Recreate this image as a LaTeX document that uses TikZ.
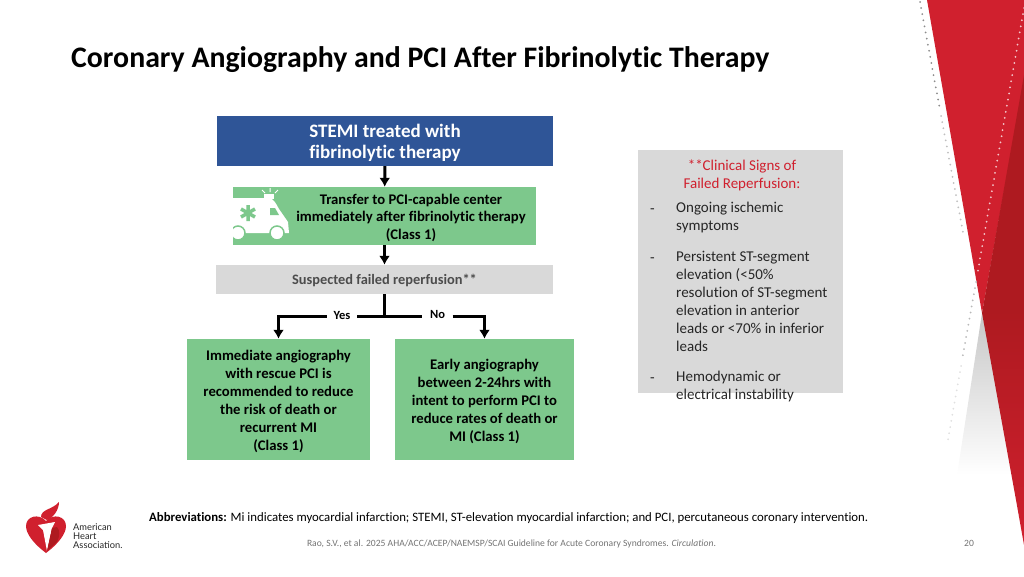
\documentclass[tikz,border=0pt]{standalone}
\usepackage{fontspec}
\setmainfont{Carlito}[Ligatures=NoCommon]
\newfontfamily\logofont{Lato}
\usepackage{tikz}
\usetikzlibrary{arrows.meta, positioning, calc}

\definecolor{ahablue}{HTML}{2F5597}
\definecolor{ahagreen}{HTML}{7DC88C}
\definecolor{ahagray}{HTML}{D9D9D9}
\definecolor{ahared}{HTML}{D0202E}
\definecolor{ahadark}{HTML}{AE1A20}

\newcommand{\topgap}[1]{\rule{0pt}{#1pt}}

\tikzset{
    box/.style = {draw=none, inner sep=0pt, align=center},
    greenbox/.style = {box, fill=ahagreen, font=\fontsize{14.7}{18}\selectfont\bfseries},
    bulletdash/.style = {inner sep=0pt, anchor=base west, text=black!85, font=\fontsize{15}{18}\selectfont},
    bullettext/.style = {inner sep=0pt, anchor=north west, align=left, text=black!85, font=\fontsize{15}{18}\selectfont},
    flow/.style = {line width=3pt, -{Latex[length=9pt, width=11pt]}},
    stem/.style = {line width=3pt},
    branch/.style = {inner sep=0pt, fill=white, minimum width=30pt, minimum height=12pt, font=\fontsize{12.5}{14}\selectfont\bfseries},
    dots/.style = {line width=2pt, line cap=round, dash pattern=on 0pt off 6.2pt},
}

\begin{document}
\begin{tikzpicture}[x=1pt, y=-1pt]
    \useasboundingbox (0,0) rectangle (1024,576);

    % corner decoration
    \shade[top color=black!22, bottom color=white] (982,313) -- (957,475) -- (1018,475) -- cycle;
    \fill[ahared] (927,0) -- (1024,0) -- (1024,80) -- (982,313) -- cycle;
    \shade[top color=ahadark, bottom color=ahared, middle color=ahadark] (1024,75) -- (982,313) -- (1016,500) -- (1024,545) -- cycle;
    \draw[dots, black!45] (920,2) -- (940,110);
    \draw[dots, black!25] (941,116) -- (963,232);
    \draw[dots, white!75!ahared] (1024,8) -- (977,276);
    \draw[dots, black!28] (976,282) -- (962,360);
    \draw[dots, black!12] (961,366) -- (947,445);

    % title
    \node[anchor=base west, inner sep=0pt, font=\fontsize{29.8}{32}\selectfont\bfseries] (title) at (71,67) {Coronary Angiography and PCI After Fibrinolytic Therapy};

    % flow boxes
    \node[box, fill=ahablue, text=white, minimum width=336pt, minimum height=50pt, font=\fontsize{19}{21}\selectfont\bfseries] (stemi) at (385,141) {\topgap{16}STEMI treated with\\fibrinolytic therapy};
    \node[greenbox, minimum width=303pt, minimum height=58pt] (transfer) at (384.5,216) {};
    \node[box, fill=ahagray, text=black!70, minimum width=337pt, minimum height=29pt, font=\fontsize{14.4}{18}\selectfont\bfseries] (suspect) at (384.5,279.5) {\topgap{13}Suspected failed reperfusion**};
    \node[greenbox, minimum width=183pt, minimum height=121pt] (immediate) at (278.5,399.5) {\topgap{14}Immediate angiography\\with rescue PCI is\\recommended to reduce\\the risk of death or\\recurrent MI\\(Class 1)};
    \node[greenbox, minimum width=179pt, minimum height=121pt] (early) at (484.5,399.5) {\topgap{14}Early angiography\\between 2-24hrs with\\intent to perform PCI to\\reduce rates of death or\\MI (Class 1)};

    % ambulance
    \begin{scope}
        \clip (233,187) rectangle (536,245);
        \fill[white] (225,198) -- (268,198) .. controls (274,198) and (276,204) .. (279,209) -- (288,222) -- (289,233) -- (225,233) -- cycle;
        \fill[white] (264,194) rectangle (274,199);
        \draw[white, line width=1pt] (262,190) -- (265,193) (270,188) -- (270,192) (278,190) -- (275,193);
        \fill[ahagreen] (270,208) -- (275,208) -- (279,215) -- (270,215) -- cycle;
        \draw[ahagreen, line width=3.5pt] (248,205) -- (248,221) (241,209) -- (255,217) (241,217) -- (255,209);
        \fill[white, draw=ahagreen, line width=1.5pt] (277,233) circle (7);
        \fill[white, draw=ahagreen, line width=1.5pt] (238,233) circle (7);
    \end{scope}
    \node[box, font=\fontsize{14.7}{17.5}\selectfont\bfseries] (transfertext) at (411,217.5) {Transfer to PCI-capable center\\immediately after fibrinolytic therapy\\(Class 1)};

    % connectors
    \coordinate (split) at (suspect.south |- 0,316);
    \node[branch] (yes) at (342,315) {Yes};
    \node[branch] (no) at (437.5,314) {No};

    \draw[flow] (stemi) -- (transfer);
    \draw[flow] (transfer) -- (suspect);
    \draw[stem] (suspect) -- (split);
    \draw[stem] (split -| yes.east) -- (split -| no.west);
    \draw[flow] (split -| yes.west) -| (immediate);
    \draw[flow] (split -| no.east) -| (early);

    % clinical signs panel
    \node[box, fill=ahagray, minimum width=205pt, minimum height=243pt] (signs) at (740.5,271.5) {};
    \node[align=center, inner sep=0pt, text=ahared, font=\fontsize{15}{18}\selectfont] (signhead) at (742,175) {**Clinical Signs of\\Failed Reperfusion:};
    \node[bullettext] (ongoing) at (676,201.5) {Ongoing ischemic\\symptoms};
    \node[bullettext] (persist) at (676,250.5) {Persistent ST-segment\\elevation (<50\%\\resolution of ST-segment\\elevation in anterior\\leads or <70\% in inferior\\leads};
    \node[bullettext] (hemo) at (676,370.5) {Hemodynamic or\\electrical instability};
    \node[bulletdash] (dasha) at (650,213) {-};
    \node[bulletdash] (dashb) at (650,262) {-};
    \node[bulletdash] (dashc) at (650,382) {-};

    % footer
    \node[anchor=base west, inner sep=0pt, font=\fontsize{12.8}{14}\selectfont] (abbrev) at (149,521) {\textbf{Abbreviations:} Mi indicates myocardial infarction; STEMI, ST-elevation myocardial infarction; and PCI, percutaneous coronary intervention.};
    \node[anchor=base, inner sep=0pt, text=black!55, font=\fontsize{9.6}{11}\selectfont] (cite) at (511.5,546.5) {Rao, S.V., et al. 2025 AHA/ACC/ACEP/NAEMSP/SCAI Guideline for Acute Coronary Syndromes. \textit{Circulation}.};
    \node[anchor=base, inner sep=0pt, text=black!55, font=\fontsize{9.6}{11}\selectfont] (page) at (969,546.5) {20};

    % logo
    \fill[ahared] (46,553) .. controls (34,544) and (26,534) .. (26,526) .. controls (26,516) and (39,513) .. (46,521) .. controls (53,513) and (66,516) .. (66,526) .. controls (66,534) and (58,544) .. (46,553) -- cycle;
    \fill[ahared] (41,517) .. controls (41,509) and (52,510) .. (59,502) .. controls (59,510) and (53,518) .. (47,520) -- cycle;
    \fill[white] (38,525) -- (55,522) -- (52,528) -- (47,551) -- (43,530) -- cycle;
    \fill[ahadark] (52,528) -- (47,551) -- (57,542) .. controls (60,536) and (60,530) .. (57,527) -- cycle;
    \node[anchor=north west, inner sep=0pt, align=left, text=black!85, font=\logofont\fontsize{9.3}{8.8}\selectfont] (aha) at (73,523.5) {American\\Heart\\Association.};
\end{tikzpicture}
\end{document}
